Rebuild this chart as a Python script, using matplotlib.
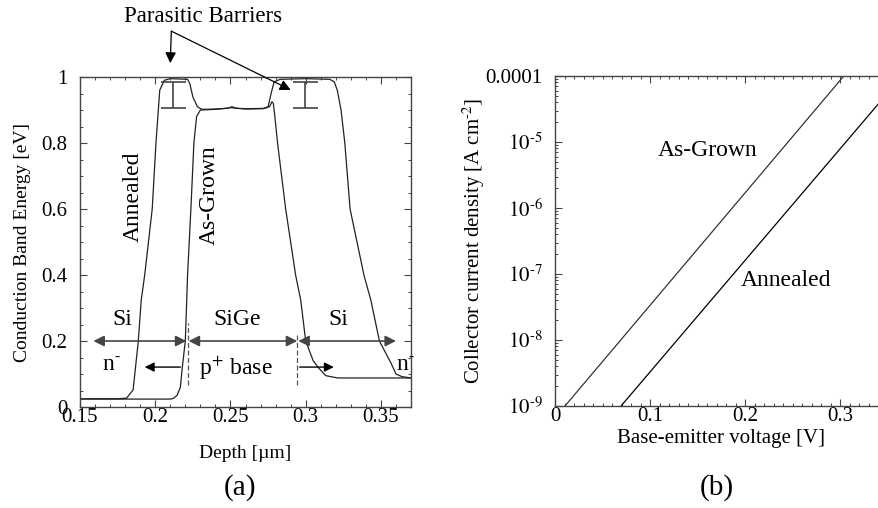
"""Conduction band profile (a) and collector current density (b) for SiGe HBT."""
import matplotlib
matplotlib.use("Agg")
import matplotlib.pyplot as plt
from matplotlib.ticker import MultipleLocator, LogLocator, NullFormatter

plt.rcParams["font.family"] = ["Liberation Serif", "DejaVu Serif"]
plt.rcParams["mathtext.fontset"] = "stix"

# -- panel (a): conduction band energy vs depth --
annealed_depth = [0.150, 0.175, 0.181, 0.1853, 0.1887, 0.1907, 0.193, 0.198, 0.2005,
                  0.203, 0.206, 0.210, 0.2215, 0.223, 0.225, 0.228, 0.231, 0.240,
                  0.248, 0.251, 0.254, 0.262, 0.272, 0.275, 0.277, 0.279, 0.283,
                  0.300, 0.316, 0.319, 0.321, 0.3235, 0.326, 0.3295, 0.3387, 0.3433,
                  0.349, 0.3567, 0.360, 0.364, 0.370]
annealed_energy = [0.025, 0.025, 0.027, 0.052, 0.197, 0.324, 0.40, 0.60, 0.80,
                   0.96, 0.99, 0.995, 0.993, 0.98, 0.94, 0.91, 0.902, 0.903,
                   0.905, 0.910, 0.905, 0.904, 0.905, 0.910, 0.950, 0.985, 0.993,
                   0.995, 0.993, 0.985, 0.96, 0.90, 0.80, 0.60, 0.40, 0.324,
                   0.20, 0.133, 0.100, 0.092, 0.088]

grown_depth = [0.150, 0.210, 0.212, 0.2145, 0.2167, 0.218, 0.220, 0.2215, 0.2237,
               0.2257, 0.2275, 0.230, 0.240, 0.250, 0.260, 0.272, 0.276, 0.2775,
               0.2785, 0.2795, 0.2813, 0.2867, 0.2933, 0.2967, 0.300, 0.305,
               0.3087, 0.3133, 0.3213, 0.370]
grown_energy = [0.024, 0.024, 0.026, 0.035, 0.060, 0.12, 0.20, 0.40, 0.60,
                0.80, 0.88, 0.90, 0.902, 0.907, 0.903, 0.904, 0.910, 0.925,
                0.920, 0.880, 0.80, 0.60, 0.40, 0.324, 0.20, 0.14,
                0.118, 0.095, 0.088, 0.088]

barrier_depth = [0.212, 0.2993]
barrier_mid = [0.945, 0.945]
barrier_half = 0.04

depth_ticks = [0.15, 0.2, 0.25, 0.3, 0.35]
depth_labels = ["0.15", "0.2", "0.25", "0.3", "0.35"]
energy_ticks = [0, 0.2, 0.4, 0.6, 0.8, 1]
energy_labels = ["0", "0.2", "0.4", "0.6", "0.8", "1"]

# -- panel (b): collector current density vs Vbe --
grown_vbe = [0.0105, 0.304]
grown_jc = [1e-9, 1e-4]
annealed_vbe = [0.0695, 0.350]
annealed_jc = [1e-9, 5.5e-5]

vbe_ticks = [0, 0.1, 0.2, 0.3]
vbe_labels = ["0", "0.1", "0.2", "0.3"]
jc_ticks = [1e-9, 1e-8, 1e-7, 1e-6, 1e-5, 1e-4]
jc_labels = [r"$10^{\text{-}9}$", r"$10^{\text{-}8}$", r"$10^{\text{-}7}$",
             r"$10^{\text{-}6}$", r"$10^{\text{-}5}$", "0.0001"]

FRAME = "#444444"
LINE = "#222222"

fig = plt.figure(figsize=(8.79, 5.08), dpi=100)
ax_a = fig.add_axes([0.091, 0.1988, 0.3766, 0.6496])
ax_b = fig.add_axes([0.6314, 0.2008, 0.3783, 0.6496])

for ax in (ax_a, ax_b):
    for sp in ax.spines.values():
        sp.set_color(FRAME)
        sp.set_linewidth(1.0)
    ax.tick_params(which="both", direction="in", top=True, right=True,
                   colors=FRAME, labelcolor="black", labelsize=15)
    ax.tick_params(which="major", length=5, width=0.8)
    ax.tick_params(which="minor", length=2.5, width=0.7)
    ax.tick_params(axis="y", pad=9)
    ax.tick_params(axis="x", pad=1)

# -- (a) --
ax_a.plot(annealed_depth, annealed_energy, color=LINE, lw=0.9)
ax_a.plot(grown_depth, grown_energy, color=LINE, lw=0.9)
ax_a.errorbar(barrier_depth, barrier_mid, yerr=barrier_half, fmt="none",
              ecolor=FRAME, elinewidth=1.2, capsize=9, capthick=1.2)
ax_a.set_xlim(0.15, 0.37)
ax_a.set_ylim(0, 1)
ax_a.set_xticks(depth_ticks, depth_labels)
ax_a.set_yticks(energy_ticks, energy_labels)
ax_a.xaxis.set_minor_locator(MultipleLocator(0.01))
ax_a.yaxis.set_minor_locator(MultipleLocator(0.05))
ax_a.set_xlabel("Depth [µm]", fontsize=14, labelpad=13)
ax_a.set_ylabel("Conduction Band Energy [eV]", fontsize=14)
ax_a.yaxis.set_label_coords((31 - 80) / 331, 0.5)

arrow_kw = dict(arrowstyle="<|-|>", color=FRAME, lw=1.2, mutation_scale=16,
                shrinkA=0, shrinkB=0)
for x0, x1 in [(0.1589, 0.2207), (0.2222, 0.2944), (0.2951, 0.3600)]:
    ax_a.annotate("", xy=(x1, 0.2), xytext=(x0, 0.2), arrowprops=arrow_kw)
one_kw = dict(arrowstyle="-|>", color="black", lw=1.0, mutation_scale=14,
              shrinkA=0, shrinkB=0)
ax_a.annotate("", xy=(0.193, 0.121), xytext=(0.2167, 0.121), arrowprops=one_kw)
ax_a.annotate("", xy=(0.3187, 0.121), xytext=(0.296, 0.121), arrowprops=one_kw)
for xd, top in [(0.2218, 0.255), (0.2944, 0.224)]:
    ax_a.plot([xd, xd], [0.067, top], color="#555555", lw=0.9, ls=(0, (4, 2)))

ax_a.text(0.178, 0.264, "Si", fontsize=17, ha="center", va="center")
ax_a.text(0.2547, 0.264, "SiGe", fontsize=17, ha="center", va="center")
ax_a.text(0.322, 0.264, "Si", fontsize=17, ha="center", va="center")
ax_a.text(0.171, 0.127, r"n$^{\text{-}}$", fontsize=17, ha="center", va="center")
ax_a.text(0.2533, 0.118, "p$^{+}$ base", fontsize=17, ha="center", va="center")
ax_a.text(0.3665, 0.127, r"n$^{\text{-}}$", fontsize=17, ha="center", va="center",
          clip_on=False)
ax_a.text(0.1857, 0.636, "Annealed", fontsize=17, rotation=90, ha="center", va="center")
ax_a.text(0.2357, 0.642, "As-Grown", fontsize=17, rotation=90, ha="center", va="center")

ax_a.text(0.232, 1.182, "Parasitic Barriers", fontsize=16.5, ha="center", va="center",
          clip_on=False)
par_kw = dict(arrowstyle="-|>", color="black", lw=0.9, mutation_scale=16,
              shrinkA=0, shrinkB=0)
ax_a.annotate("", xy=(0.2100, 1.042), xytext=(0.2107, 1.139), arrowprops=par_kw,
              annotation_clip=False)
ax_a.annotate("", xy=(0.2900, 0.961), xytext=(0.2107, 1.139), arrowprops=par_kw,
              annotation_clip=False)
fig.text(240 / 879, 1 - 488 / 508, "(a)", fontsize=21, ha="center", va="center")

# -- (b) --
ax_b.semilogy(grown_vbe, grown_jc, color="#333333", lw=0.9)
ax_b.semilogy(annealed_vbe, annealed_jc, color="black", lw=0.9)
ax_b.set_xlim(0, 0.35)
ax_b.set_ylim(1e-9, 1e-4)
ax_b.set_xticks(vbe_ticks, vbe_labels)
ax_b.set_yticks(jc_ticks, jc_labels)
ax_b.xaxis.set_minor_locator(MultipleLocator(0.01))
ax_b.yaxis.set_minor_locator(LogLocator(base=10, subs=range(2, 10)))
ax_b.yaxis.set_minor_formatter(NullFormatter())
ax_b.set_xlabel("Base-emitter voltage [V]", fontsize=15, labelpad=2)
ax_b.set_ylabel(r"Collector current density [A cm$^{\text{-}2}$]", fontsize=15)
ax_b.yaxis.set_label_coords((487 - 555) / 332.5, 0.5)
ax_b.text(0.161, 1.0e-5 * 0.74, "As-Grown", fontsize=17, ha="center", va="center")
ax_b.text(0.243, 1.0e-7 * 0.81, "Annealed", fontsize=17, ha="center", va="center")
fig.text(717 / 879, 1 - 488 / 508, "(b)", fontsize=21, ha="center", va="center")

fig.savefig("out.png", dpi=100)
plt.close(fig)
